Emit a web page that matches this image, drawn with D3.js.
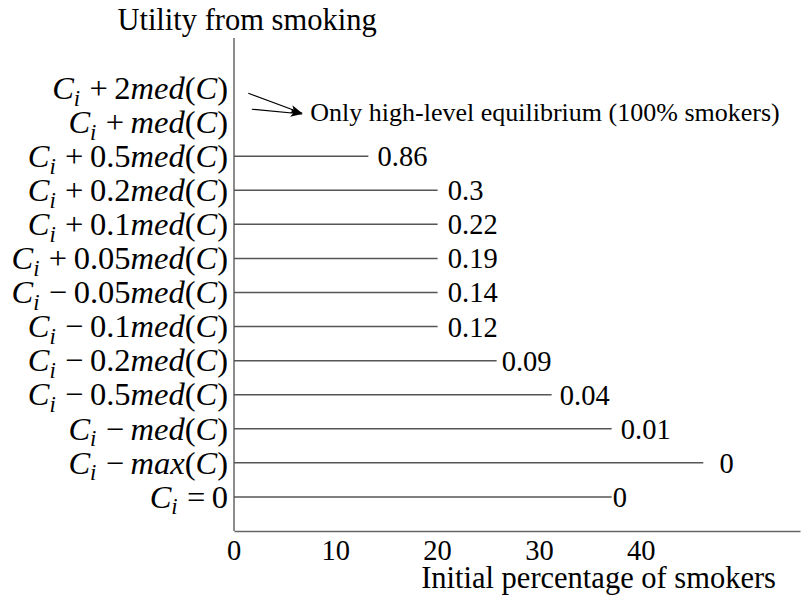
<!DOCTYPE html>
<html>
<head>
<meta charset="utf-8">
<script src="https://cdn.jsdelivr.net/npm/d3@7"></script>
</head>
<body style="margin:0">
<svg id="chart" width="804" height="604" font-family="Liberation Serif"></svg>
<script>
// ---- data ----
const categories = [
  "C_i + 2med(C)",
  "C_i + med(C)",
  "C_i + 0.5med(C)",
  "C_i + 0.2med(C)",
  "C_i + 0.1med(C)",
  "C_i + 0.05med(C)",
  "C_i − 0.05med(C)",
  "C_i − 0.1med(C)",
  "C_i − 0.2med(C)",
  "C_i − 0.5med(C)",
  "C_i − med(C)",
  "C_i − max(C)",
  "C_i = 0"
];
// initial percentage of smokers (line length) for each category; null = no line
const values = [null, null, 13.2, 20, 20, 20, 20, 20, 25.8, 31.2, 37.1, 46.1, 37.1];
// value annotations and their x anchor (data units)
const valueLabels = [null, null, "0.86", "0.3", "0.22", "0.19", "0.14", "0.12", "0.09", "0.04", "0.01", "0", "0"];
const valueLabelX = [null, null, 14.1, 21.0, 21.0, 21.0, 21.0, 21.0, 26.3, 32.0, 38.0, 47.7, 37.2];
const xTicks = [0, 10, 20, 30, 40];
const annotationText = "Only high-level equilibrium (100% smokers)";
// arrows: [x0, row0, x1, row1] in data units / row index
const arrows = [
  [1.4, 0.15, 6.7, 0.74],
  [1.75, 0.62, 6.7, 0.76]
];
const annotationPos = [7.5, 0.72];

const FAM = "Liberation Serif";
const FONT = "\"Liberation Serif\", sans-serif";
const svg = d3.select("#chart");
const x = d3.scaleLinear().domain([0, 55.6]).range([234, 800]);
const y = d3.scaleLinear().domain([-1.47, 13]).range([38, 531]);

// every text is a direct child of the svg root
function txt() {
  return svg.append("text").attr("font-family", FAM)
    .style("font-family", FONT).attr("fill", "#000");
}
function fitFont(sel, target) {
  const w = sel.node().getComputedTextLength();
  const fs = parseFloat(sel.attr("font-size"));
  return Math.round(fs * target / w * 2) / 2;
}

svg.append("defs").append("marker")
  .attr("id", "ah").attr("viewBox", "0 0 12 8").attr("refX", 12).attr("refY", 4)
  .attr("markerWidth", 12).attr("markerHeight", 8).attr("markerUnits", "userSpaceOnUse")
  .attr("orient", "auto")
  .append("path").attr("d", "M0,0 L12,4 L0,8 L3,4 Z").attr("fill", "#000");

const probe = txt().attr("font-size", 30).text("Initial percentage of smokers");
const titleFS = fitFont(probe, 353);
probe.attr("font-size", 30).text("0.86");
const numFS = fitFont(probe, 50);
probe.attr("font-size", 30).text(annotationText);
const annFS = fitFont(probe, 473);
probe.remove();

// x axis: domain line from d3.axisBottom, tick labels placed with the same scale
const xAxis = d3.axisBottom(x).tickValues(xTicks).tickSize(0).tickFormat("");
const gx = svg.append("g").attr("transform", `translate(0,${y(13)})`).call(xAxis);
gx.select(".domain").attr("stroke", "#666").attr("stroke-width", 1.5);
xTicks.forEach(v => {
  txt().attr("x", x(v)).attr("y", y(13) + 9).attr("dy", "0.71em")
    .attr("text-anchor", "middle").attr("font-size", numFS).text(d3.format("d")(v));
});

// y axis line
svg.append("line")
  .attr("x1", x(0)).attr("x2", x(0)).attr("y1", y(-1.47)).attr("y2", y(13))
  .attr("stroke", "#666").attr("stroke-width", 1.5);

const rows = categories.map((c, i) => ({c, i, v: values[i], lab: valueLabels[i], lx: valueLabelX[i]}));
svg.selectAll("line.bar").data(rows.filter(d => d.v != null)).join("line")
  .attr("class", "bar")
  .attr("x1", x(0)).attr("x2", d => x(d.v))
  .attr("y1", d => y(d.i)).attr("y2", d => y(d.i))
  .attr("stroke", "#555").attr("stroke-width", 1.5);

rows.filter(d => d.lab != null).forEach(d => {
  txt().attr("x", x(d.lx)).attr("y", y(d.i)).attr("dy", "0.35em")
    .attr("font-size", numFS).text(d.lab);
});

function span(sel) {
  return sel.append("tspan").attr("font-family", FAM).style("font-family", FONT);
}
function renderMath(sel, str) {
  let i = 0;
  const isLetter = c => /[A-Za-z]/.test(c);
  while (i < str.length) {
    const ch = str[i];
    if (ch === "_") {
      span(sel).attr("font-style", "italic").attr("font-size", "0.7em")
        .attr("dy", "0.3em").text(str[i + 1]);
      span(sel).attr("dy", "-0.21em").text("\u200A");
      i += 2; continue;
    }
    if (ch === " ") { i++; continue; }
    if (/[+−=]/.test(ch)) {
      span(sel).text("\u2009" + ch + "\u2009");
      i++; continue;
    }
    let j = i;
    if (isLetter(ch)) {
      while (j < str.length && isLetter(str[j])) j++;
      span(sel).attr("font-style", "italic").text(str.slice(i, j));
    } else {
      while (j < str.length && !isLetter(str[j]) && !/[ _+−=]/.test(str[j])) j++;
      span(sel).text(str.slice(i, j));
    }
    i = j;
  }
}
const labTexts = rows.map(d => {
  const t = txt()
    .attr("x", 228).attr("y", y(d.i)).attr("dy", "0.33em")
    .attr("text-anchor", "end").attr("font-size", 30);
  renderMath(t, d.c);
  return t;
});
const widest = d3.max(labTexts, t => t.node().getComputedTextLength());
const labFS = Math.round(30 * 218 / widest * 2) / 2;
labTexts.forEach(t => t.attr("font-size", labFS));

svg.selectAll("line.arrow").data(arrows).join("line")
  .attr("class", "arrow")
  .attr("x1", d => x(d[0])).attr("y1", d => y(d[1]))
  .attr("x2", d => x(d[2])).attr("y2", d => y(d[3]))
  .attr("stroke", "#000").attr("stroke-width", 1.1)
  .attr("marker-end", "url(#ah)");
txt().attr("x", x(annotationPos[0])).attr("y", y(annotationPos[1])).attr("dy", "0.33em")
  .attr("font-size", annFS).text(annotationText);

txt().attr("x", 247).attr("y", 30).attr("text-anchor", "middle").attr("font-size", titleFS)
  .text("Utility from smoking");
txt().attr("x", 776).attr("y", 588).attr("text-anchor", "end").attr("font-size", titleFS)
  .text("Initial percentage of smokers");
</script>
</body>
</html>
